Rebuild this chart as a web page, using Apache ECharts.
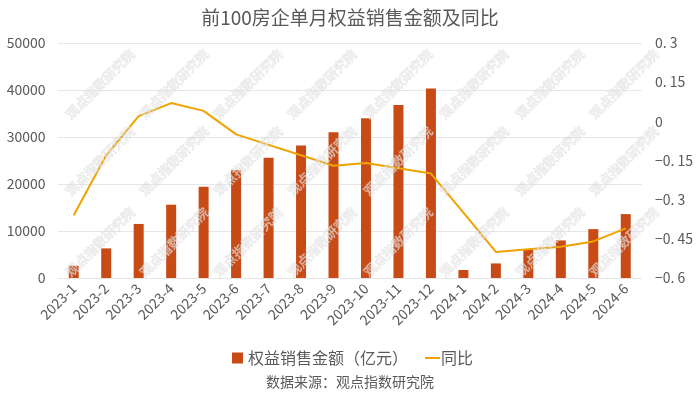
<!DOCTYPE html>
<html>
<head>
<meta charset="utf-8">
<script src="https://cdn.jsdelivr.net/npm/echarts@6/dist/echarts.min.js"></script>
<style>
html,body{margin:0;padding:0;background:#fff;}
#chart{width:700px;height:394px;}
</style>
</head>
<body>
<div id="chart"></div>
<script>
var titleText = '前100房企单月权益销售金额及同比';
var sourceText = '数据来源：观点指数研究院';
var watermarkText = '观点指数研究院';
var months = ['2023-1','2023-2','2023-3','2023-4','2023-5','2023-6','2023-7','2023-8','2023-9','2023-10','2023-11','2023-12','2024-1','2024-2','2024-3','2024-4','2024-5','2024-6'];
var salesName = '权益销售金额（亿元）';
var yoyName = '同比';
var sales = [2600, 6300, 11500, 15600, 19400, 22900, 25600, 28200, 31000, 34000, 36800, 40300, 1700, 3100, 6000, 8000, 10400, 13600];
var yoy = [-0.36, -0.13, 0.02, 0.07, 0.04, -0.05, -0.09, -0.13, -0.17, -0.16, -0.18, -0.20, -0.35, -0.50, -0.49, -0.48, -0.46, -0.41];

var FONT = '"Noto Sans CJK SC", "Noto Sans", sans-serif';
var GREY = '#595959';

var wm = [];
var wx = [100, 174, 248, 322, 398, 474, 550, 624];
var wy = [84, 161, 242];
wy.forEach(function (y) {
  wx.forEach(function (x) {
    wm.push({
      type: 'text',
      x: x, y: y,
      rotation: Math.PI / 4,
      z: 100,
      silent: true,
      style: {
        text: watermarkText,
        font: '13px ' + FONT,
        fill: 'rgba(255,255,255,0.45)',
        stroke: 'rgba(200,200,200,0.5)',
        lineWidth: 0.8,
        align: 'center',
        verticalAlign: 'middle'
      }
    });
  });
});

var chart = echarts.init(document.getElementById('chart'), null, {renderer: 'canvas'});
chart.setOption({
  animation: false,
  backgroundColor: '#ffffff',
  title: [{
    text: titleText,
    left: 'center',
    top: 8,
    padding: 0,
    textStyle: {fontFamily: FONT, fontSize: 19, fontWeight: 'normal', color: GREY}
  }, {
    text: sourceText,
    left: 'center',
    top: 375,
    padding: 0,
    textStyle: {fontFamily: FONT, fontSize: 14, fontWeight: 'normal', color: GREY}
  }],
  legend: [{
    top: 345,
    left: 227,
    itemWidth: 11,
    itemHeight: 11,
    icon: 'rect',
    textStyle: {fontFamily: FONT, fontSize: 16, color: GREY},
    data: [salesName]
  }, {
    top: 345,
    left: 420,
    itemWidth: 15,
    itemHeight: 2,
    icon: 'rect',
    textStyle: {fontFamily: FONT, fontSize: 16, color: GREY, padding: [0, 0, 0, -4]},
    data: [yoyName]
  }],
  grid: {left: 57.5, right: 58, top: 43, bottom: 116, containLabel: false},
  xAxis: {
    type: 'category',
    data: months,
    axisLine: {show: false},
    axisTick: {show: false},
    axisLabel: {rotate: 45, margin: 8, interval: 0, fontFamily: FONT, fontSize: 14, color: GREY}
  },
  yAxis: [{
    type: 'value',
    min: 0, max: 50000, interval: 10000,
    axisLine: {show: false},
    axisTick: {show: false},
    splitLine: {lineStyle: {color: '#e6e6e6', width: 1}},
    axisLabel: {
      margin: 12, fontFamily: FONT, fontSize: 14, color: GREY,
      formatter: function (v) { return String(v); }
    }
  }, {
    type: 'value',
    min: -0.6, max: 0.3, interval: 0.15,
    axisLine: {show: false},
    axisTick: {show: false},
    splitLine: {show: false},
    axisLabel: {
      margin: 13, fontFamily: FONT, fontSize: 14, color: GREY,
      formatter: function (v) {
        var s = String(+v.toFixed(2));
        return s.replace('-', '−').replace('.', '. ');
      }
    }
  }],
  series: [{
    name: salesName,
    type: 'bar',
    data: sales,
    barWidth: 10,
    itemStyle: {color: '#C84B16'},
    yAxisIndex: 0
  }, {
    name: yoyName,
    type: 'line',
    data: yoy,
    yAxisIndex: 1,
    symbol: 'none',
    showSymbol: false,
    lineStyle: {color: '#EFA200', width: 2},
    itemStyle: {color: '#EFA200'},
    z: 5
  }],
  graphic: wm
});
</script>
</body>
</html>
